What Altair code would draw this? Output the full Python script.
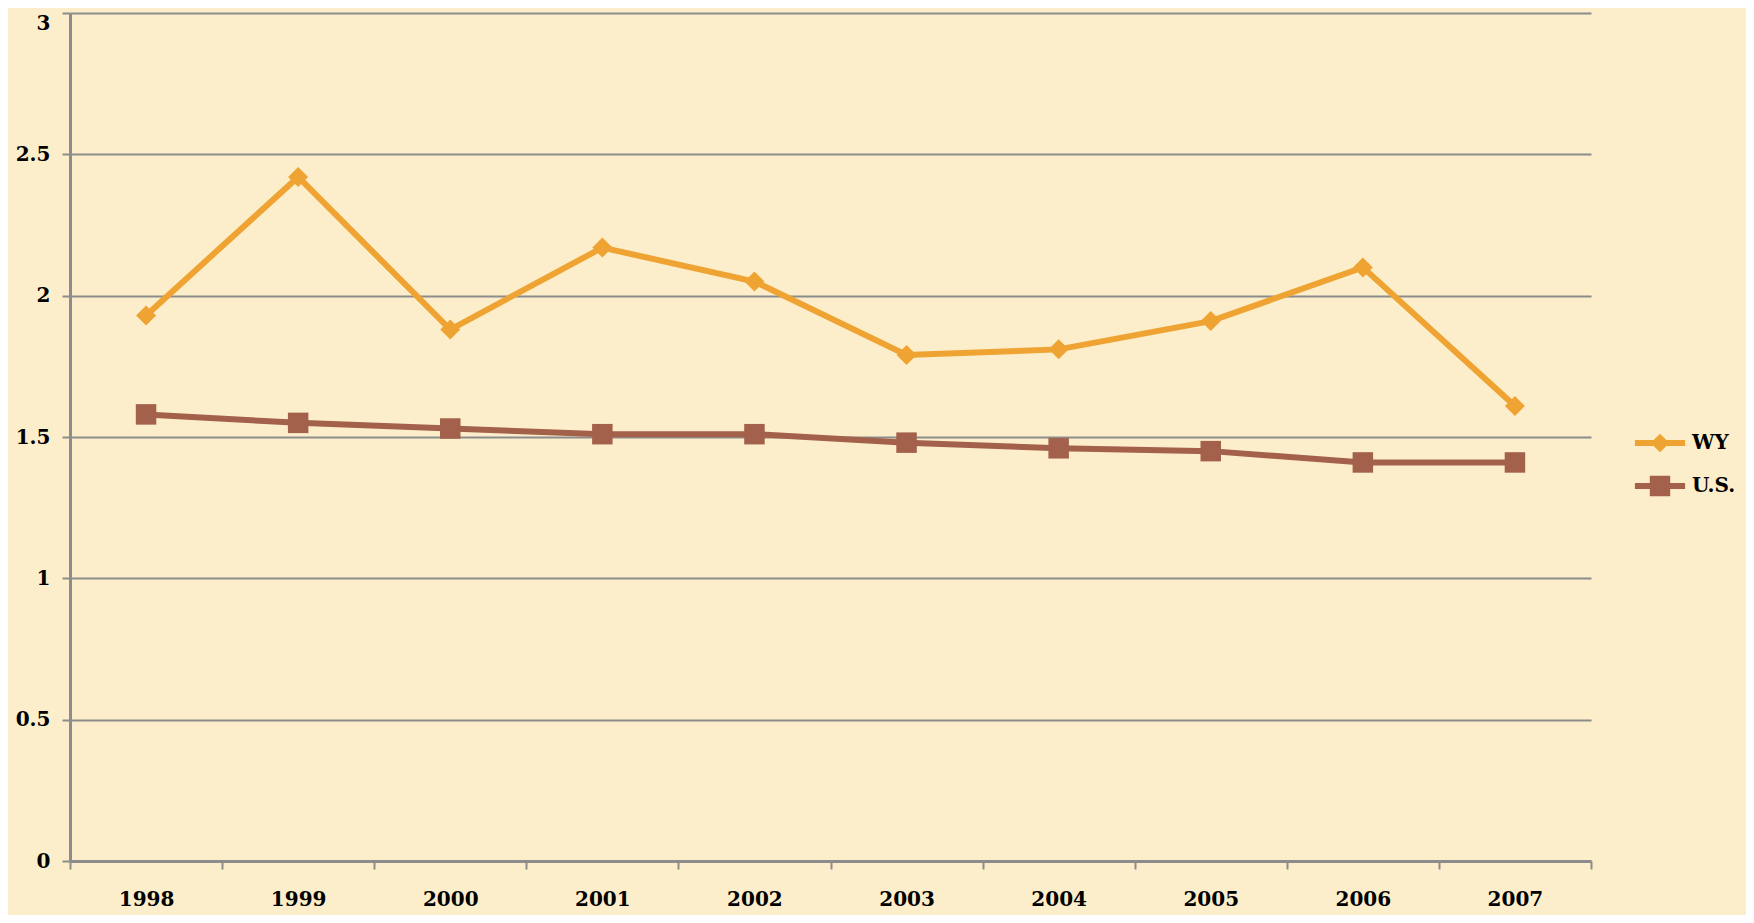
import altair as alt
import pandas as pd

years = ["1998", "1999", "2000", "2001", "2002", "2003", "2004", "2005", "2006", "2007"]
wy = [1.93, 2.42, 1.88, 2.17, 2.05, 1.79, 1.81, 1.91, 2.10, 1.61]
us = [1.58, 1.55, 1.53, 1.51, 1.51, 1.48, 1.46, 1.45, 1.41, 1.41]
series = ["WY", "U.S."]
colors = ["#EFA332", "#A3604A"]

df = pd.DataFrame(
    {
        "year": years * 2,
        "value": wy + us,
        "series": [series[0]] * len(years) + [series[1]] * len(years),
    }
)

FONT = "DejaVu Serif"

x = alt.X(
    "year:O",
    bandPosition=0.5,
    title=None,
    scale=alt.Scale(type="band", paddingInner=0, paddingOuter=0),
    axis=alt.Axis(
        tickBand="extent",
        grid=False,
        labelAngle=0,
        tickSize=8,
        labelPadding=20,
        domainColor="#8c8c8c",
        domainWidth=3,
        tickColor="#8c8c8c",
        tickWidth=2,
    ),
)
y = alt.Y(
    "value:Q",
    title=None,
    scale=alt.Scale(domain=[0, 3], nice=False),
    axis=alt.Axis(
        values=[0, 0.5, 1, 1.5, 2, 2.5, 3],
        format="~g",
        tickSize=8,
        labelPadding=12,
        labelBaseline={
            "condition": {"test": "datum.value == 3", "value": "top"},
            "value": "middle",
        },
        gridColor="#8c8c8c",
        gridWidth=2,
        domainColor="#8c8c8c",
        domainWidth=3,
        tickColor="#8c8c8c",
        tickWidth=2,
    ),
)
color_scale = alt.Scale(domain=series, range=colors)

base = alt.Chart(df)

lines = base.mark_line(strokeWidth=6).encode(
    x=x,
    y=y,
    color=alt.Color("series:N", scale=color_scale, legend=None),
    detail="series:N",
)

points = base.mark_point(filled=True, opacity=1).encode(
    x=x,
    y=y,
    color=alt.Color("series:N", scale=color_scale, legend=None),
    shape=alt.Shape(
        "series:N",
        scale=alt.Scale(domain=series, range=["diamond", "square"]),
        legend=None,
    ),
    size=alt.Size(
        "series:N",
        scale=alt.Scale(domain=series, range=[400, 420]),
        legend=None,
    ),
)

# invisible layer that only carries the line+marker legend
leg_diamond = "M-2.95,-0.35H2.95V0.35H-2.95Z M0,-1.1L1.1,0L0,1.1L-1.1,0Z"
leg_square = "M-2.95,-0.35H2.95V0.35H-2.95Z M-1.2,-1.2H1.2V1.2H-1.2Z"
legend_def = alt.Legend(
    title=None,
    orient="none",
    legendX=1580,
    legendY=420,
    padding=0,
    symbolSize=289,
    symbolOpacity=1,
    symbolStrokeWidth=0,
    labelOffset=22,
    rowPadding=22,
    labelFont=FONT,
    labelFontSize=20,
    labelFontWeight="bold",
    labelColor="#000000",
)
legend_layer = base.mark_point(filled=True, opacity=0).encode(
    x=x,
    y=y,
    color=alt.Color("series:N", scale=color_scale, legend=legend_def),
    shape=alt.Shape(
        "series:N",
        scale=alt.Scale(domain=series, range=[leg_diamond, leg_square]),
        legend=legend_def,
    ),
)

chart = (
    alt.layer(lines, points, legend_layer)
    .resolve_scale(color="independent", shape="independent")
    .properties(
        width=1521,
        height=848,
        background="#FCEECA",
        autosize=alt.AutoSizeParams(type="none"),
        padding={"left": 62, "top": 5, "right": 155, "bottom": 54},
    )
    .configure_view(stroke=None)
    .configure_axis(
        labelFont=FONT,
        labelFontSize=20,
        labelFontWeight="bold",
        labelColor="#000000",
    )
)

chart.save("out.html", embed_options={"renderer": "svg", "actions": False})
